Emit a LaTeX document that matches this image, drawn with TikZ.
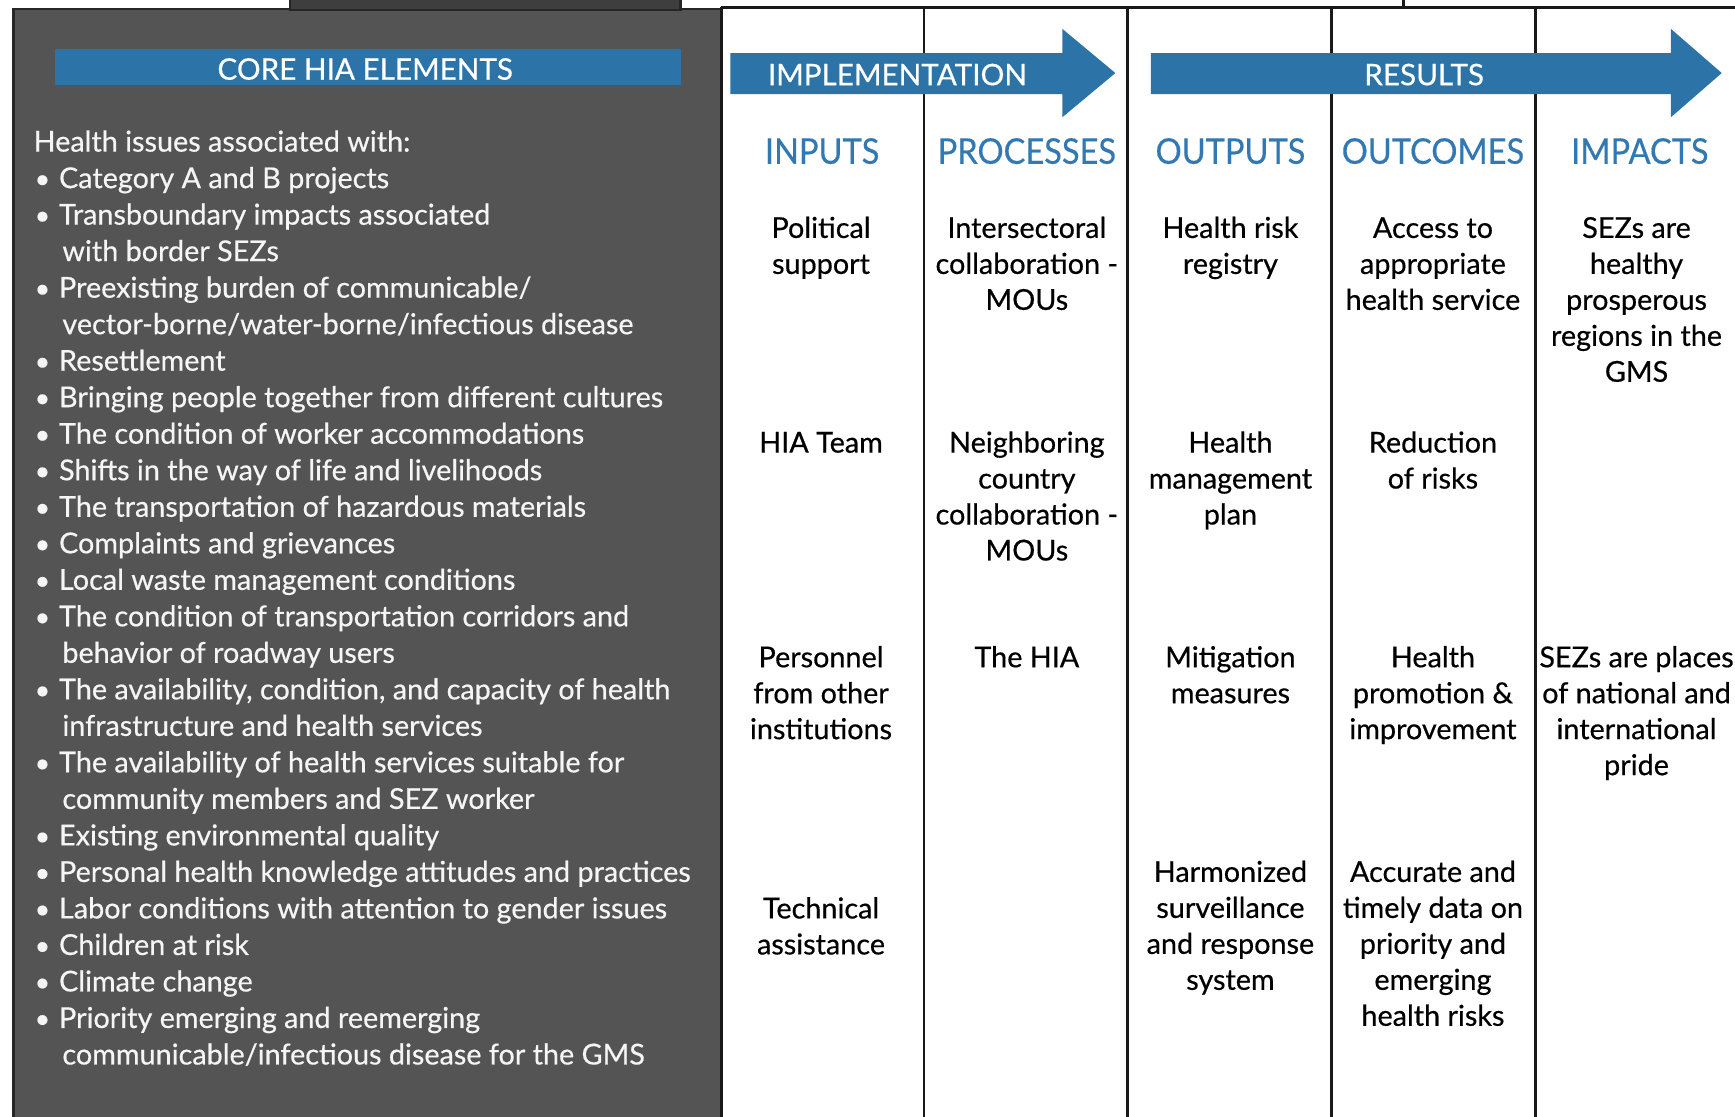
\documentclass[tikz,border=0pt]{standalone}
\usepackage{fontspec}
\setmainfont{Lato}[FakeBold=0.5]
\newfontfamily\condfont{Lato}[FakeStretch=0.92,FakeBold=0.4]
\definecolor{barblue}{RGB}{44,116,168}
\definecolor{hdrblue}{RGB}{50,120,178}
\definecolor{panelgrey}{RGB}{84,84,84}
\definecolor{tabgrey}{RGB}{62,62,62}
\definecolor{paneltext}{RGB}{245,245,245}
\tikzset{
  lt/.style={anchor=base west, inner sep=0pt, text=paneltext, font=\fontsize{13pt}{15pt}\selectfont},
  bu/.style={anchor=base west, inner sep=0pt, text=paneltext, font=\fontsize{12pt}{15pt}\selectfont},
  cell/.style={anchor=base, inner sep=0pt, text=black, font=\fontsize{13pt}{15pt}\selectfont},
  hdr/.style={anchor=base, inner sep=0pt, text=hdrblue, font=\condfont\fontsize{16pt}{18pt}\selectfont},
  bartext/.style={anchor=base, inner sep=0pt, text=white, font=\fontsize{13.4pt}{15pt}\selectfont},
  colline/.style={draw=black!90, line width=1.3pt},
}
\newcommand\HIAb[2]{\node[bu] (bu#1) at (31,137+33*#1) {\textbullet};
  \node[lt] (li#1) at (53,137+33*#1) {#2};}
\newcommand\HIAc[2]{\node[lt] (li#1) at (56,137+33*#1) {#2};}
\newcommand\HIAcell[4]{\foreach \t [count=\i] in {#4}
  \node[cell] (#1-\i) at (#2,{#3+9+32.5*(\i-1)}) {\t};}
\begin{document}
\begin{tikzpicture}[x=0.5pt,y=-0.5pt]
\useasboundingbox (0,0) rectangle (1568,1009);
\fill[white] (0,0) rectangle (1568,1009);
% left panel
\path[fill=panelgrey, draw=black!85, line width=1.2pt] (12,8) rectangle (652,1012);
\path[fill=tabgrey, draw=black!85, line width=1.2pt] (262,-3) rectangle (615,9);
\fill[barblue] (50,44) rectangle (615,77);
\node[bartext] (core) at (330,72) {CORE HIA ELEMENTS};
% list
\node[lt] (li0) at (30,137) {Health issues associated with:};
\HIAb{1}{Category A and B projects}
\HIAb{2}{Transboundary impacts associated}
\HIAc{3}{with border SEZs}
\HIAb{4}{Preexisting burden of communicable/}
\HIAc{5}{vector-borne/water-borne/infectious disease}
\HIAb{6}{Resettlement}
\HIAb{7}{Bringing people together from different cultures}
\HIAb{8}{The condition of worker accommodations}
\HIAb{9}{Shifts in the way of life and livelihoods}
\HIAb{10}{The transportation of hazardous materials}
\HIAb{11}{Complaints and grievances}
\HIAb{12}{Local waste management conditions}
\HIAb{13}{The condition of transportation corridors and}
\HIAc{14}{behavior of roadway users}
\HIAb{15}{The availability, condition, and capacity of health}
\HIAc{16}{infrastructure and health services}
\HIAb{17}{The availability of health services suitable for}
\HIAc{18}{community members and SEZ worker}
\HIAb{19}{Existing environmental quality}
\HIAb{20}{Personal health knowledge attitudes and practices}
\HIAb{21}{Labor conditions with attention to gender issues}
\HIAb{22}{Children at risk}
\HIAb{23}{Climate change}
\HIAb{24}{Priority emerging and reemerging}
\HIAc{25}{communicable/infectious disease for the GMS}
% grid on the right
\draw[colline] (652,6.5) -- (1570,6.5);
\draw[colline] (1268,-2) -- (1268,6.5);
\foreach \xx in {835,1019,1203,1388}
  \draw[colline] (\xx,6.5) -- (\xx,1012);
\draw[colline] (652,6.5) -- (652,1012);
% arrows
\fill[barblue] (660,48) -- (960,48) -- (960,26) -- (1008,66) -- (960,106) -- (960,85) -- (660,85) -- cycle;
\node[bartext] (impl) at (811,77) {IMPLEMENTATION};
\fill[barblue] (1040,48) -- (1510,48) -- (1510,26) -- (1556,66) -- (1510,106) -- (1510,85) -- (1040,85) -- cycle;
\node[bartext] (res) at (1287,77) {RESULTS};
% headers
\node[hdr] (hin) at (743,148) {INPUTS};
\node[hdr] (hpr) at (928,148) {PROCESSES};
\node[hdr] (hou) at (1112,148) {OUTPUTS};
\node[hdr] (hoc) at (1295,148) {OUTCOMES};
\node[hdr] (him) at (1482,148) {IMPACTS};
% cells
\HIAcell{in1}{742}{206}{Political,support}
\HIAcell{pr1}{928}{206}{Intersectoral,collaboration -,MOUs}
\HIAcell{ou1}{1112}{206}{Health risk,registry}
\HIAcell{oc1}{1295}{206}{Access to,appropriate,health service}
\HIAcell{im1}{1479}{206}{SEZs are,healthy,prosperous,regions in the,GMS}
\HIAcell{in2}{742}{400}{HIA Team}
\HIAcell{pr2}{928}{400}{Neighboring,country,collaboration -,MOUs}
\HIAcell{ou2}{1112}{400}{Health,management,plan}
\HIAcell{oc2}{1295}{400}{Reduction,of risks}
\HIAcell{in3}{742}{594}{Personnel,from other,institutions}
\HIAcell{pr3}{928}{594}{The HIA}
\HIAcell{ou3}{1112}{594}{Mitigation,measures}
\HIAcell{oc3}{1295}{594}{Health,promotion \&,improvement}
\HIAcell{im3}{1479}{594}{SEZs are places,of national and,international,pride}
\HIAcell{in4}{742}{821}{Technical,assistance}
\HIAcell{ou4}{1112}{788}{Harmonized,surveillance,and response,system}
\HIAcell{oc4}{1295}{788}{Accurate and,timely data on,priority and,emerging,health risks}
\end{tikzpicture}
\end{document}
